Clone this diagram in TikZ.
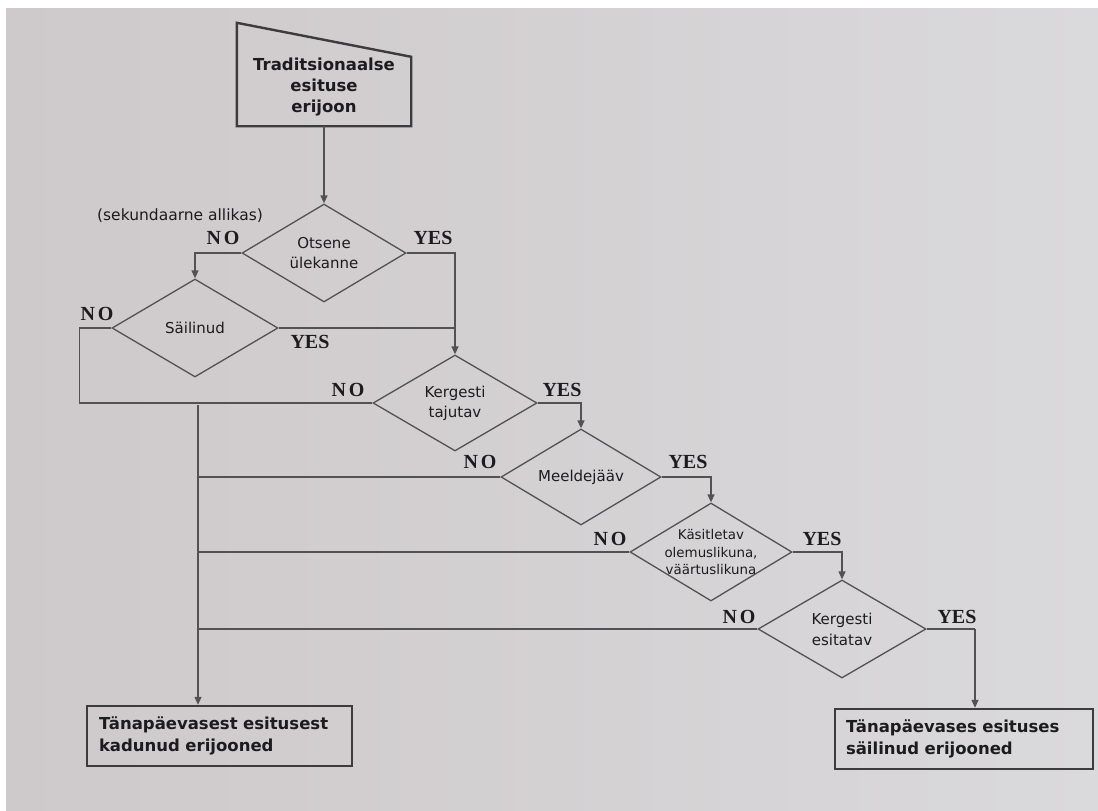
\documentclass[tikz,border=0pt]{standalone}
\usepackage{fontspec}
\setmainfont{Liberation Serif}
\newfontfamily\dvs{DejaVu Sans}
\usetikzlibrary{shapes.geometric,arrows.meta,calc}
\definecolor{bgl}{RGB}{206,201,202}
\definecolor{bgr}{RGB}{218,217,220}
\definecolor{lnc}{RGB}{82,81,84}
\definecolor{bxc}{RGB}{60,59,62}
\definecolor{txc}{RGB}{28,27,30}
\begin{document}
\begin{tikzpicture}[x=1pt,y=-1pt,
  dia/.style={shape=diamond, draw=lnc, line width=1.3pt, inner sep=0pt},
  dtext/.style={font=\dvs\fontsize{15}{20}\selectfont, text=txc, align=center},
  stext/.style={font=\dvs\fontsize{13.4}{17.5}\selectfont, text=txc, align=center},
  btext/.style={font=\dvs\bfseries\fontsize{16.5}{21}\selectfont, text=txc},
  yn/.style={font=\bfseries\fontsize{20}{22}\selectfont, text=txc},
  conn/.style={draw=lnc, line width=1.3pt},
  arr/.style={conn, -{Triangle[length=8pt,width=7pt]}},
  bbox/.style={draw=bxc, line width=2.4pt, inner sep=0pt, align=left,
    font=\dvs\bfseries\fontsize{16.5}{22}\selectfont, text=txc}
]
\useasboundingbox (0,0) rectangle (1098,811);
\shade[left color=bgl, right color=bgr] (0,0) rectangle (1098,811);
\fill[white] (0,0) rectangle (1098,8);
\fill[white] (0,0) rectangle (6,811);

% start box (manual input shape)
\node[inner sep=0pt, minimum width=174pt, minimum height=103pt] (start) at (324,74.5) {};
\draw[draw=bxc, line width=2.4pt, line join=miter]
  (start.north west) -- ($(start.north east)+(0,34)$) -- (start.south east)
  -- (start.south west) -- cycle;
\node[btext, align=center] (starttext) at (324,87) {Traditsionaalse\\esituse\\erijoon};

% diamonds
\node[dia, minimum width=164pt, minimum height=98pt] (d1) at (324,253) {};
\node[dtext] (t1) at (d1) {Otsene\\ülekanne};
\node[dia, minimum width=166pt, minimum height=98pt] (d2) at (195,328) {};
\node[dtext] (t2) at (d2) {Säilinud};
\node[dia, minimum width=164pt, minimum height=96pt] (d3) at (455,403) {};
\node[dtext] (t3) at (d3) {Kergesti\\tajutav};
\node[dia, minimum width=160pt, minimum height=96pt] (d4) at (581,477) {};
\node[dtext] (t4) at (d4) {Meeldejääv};
\node[dia, minimum width=162pt, minimum height=98pt] (d5) at (711,552) {};
\node[stext] (t5) at (d5) {Käsitletav\\olemuslikuna,\\väärtuslikuna};
\node[dia, minimum width=168pt, minimum height=98pt] (d6) at (842,629) {};
\node[dtext, font=\dvs\fontsize{15}{21}\selectfont] (t6) at (d6) {Kergesti\\esitatav};

% end boxes
\node[bbox, minimum width=265pt, minimum height=60pt, text width=241pt] (lbox) at (219.5,736)
  {Tänapäevasest esitusest\\kadunud erijooned};
\node[bbox, minimum width=258pt, minimum height=60pt, text width=236pt] (rbox) at (964,739)
  {Tänapäevases esituses\\säilinud erijooned};

% labels
\node[font=\dvs\fontsize{15.5}{18}\selectfont, text=txc] (sek) at (180,216) {(sekundaarne allikas)};
\node[yn] (no1) at (223,238) {N\kern3pt O};
\node[yn] (yes1) at (433,238) {YES};
\node[yn] (no2) at (97,314) {N\kern3pt O};
\node[yn] (yes2) at (310,342) {YES};
\node[yn] (no3) at (348,390) {N\kern3pt O};
\node[yn] (yes3) at (562,390) {YES};
\node[yn] (no4) at (480,462) {N\kern3pt O};
\node[yn] (yes4) at (688,462) {YES};
\node[yn] (no5) at (610,539) {N\kern3pt O};
\node[yn] (yes5) at (822,539) {YES};
\node[yn] (no6) at (739,617) {N\kern3pt O};
\node[yn] (yes6) at (957,617) {YES};

% junction coordinates
\coordinate (jl) at (198,405);
\coordinate (jr) at (975,629);

% connectors
\draw[arr] (start.south) -- (d1.north);
\draw[arr] (d1.west) -| (d2.north);
\draw[arr] (d1.east) -| (d3.north);
\draw[conn] (d2.east) -- (d2.east -| d3.north);
\draw[conn] (d2.west) -- ++(-32,0) |- (d3.west);
\draw[arr] (d3.east) -| (d4.north);
\draw[arr] (d4.east) -| (d5.north);
\draw[arr] (d5.east) -| (d6.north);
\draw[conn] (d4.west) -- (d4.west -| jl);
\draw[conn] (d5.west) -- (d5.west -| jl);
\draw[conn] (d6.west) -- (d6.west -| jl);
\draw[arr] (jl) -- (jl |- lbox.north);
\draw[conn] (d6.east) -- (jr);
\draw[arr] (jr) -- (jr |- rbox.north);
\end{tikzpicture}
\end{document}
